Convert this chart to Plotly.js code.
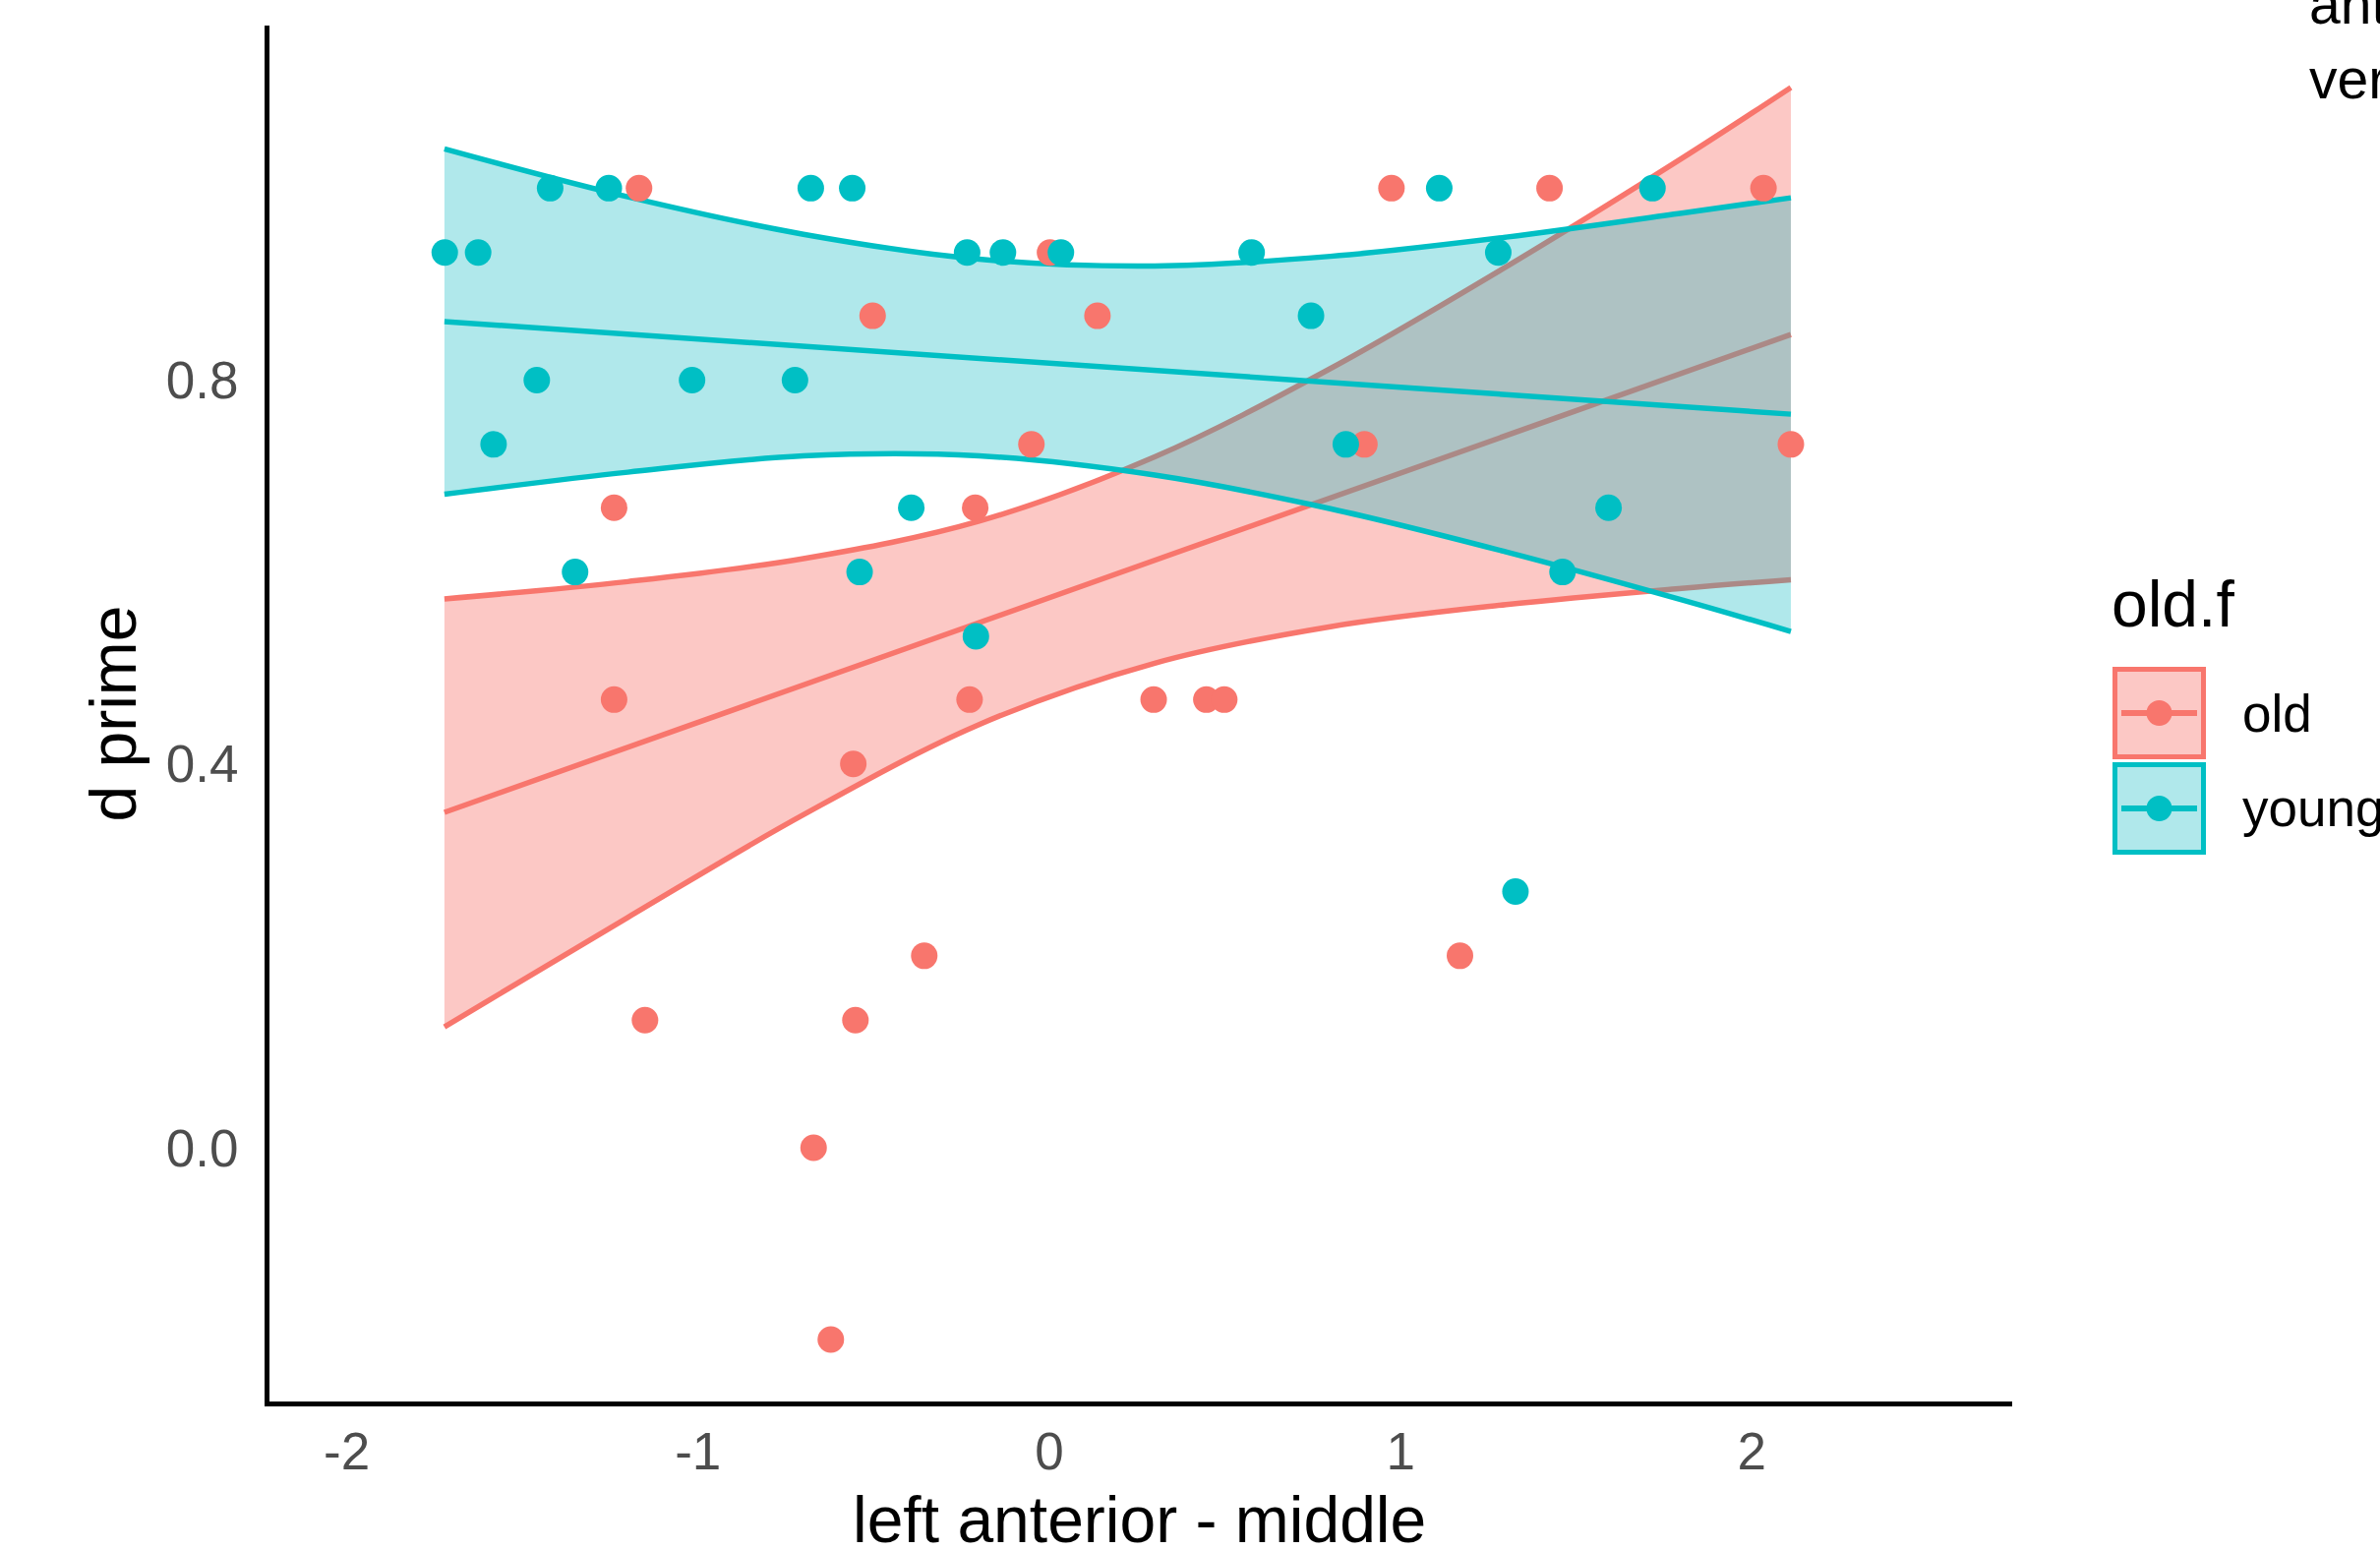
<!DOCTYPE html>
<html>
<head>
<meta charset="utf-8">
<script src="https://cdn.plot.ly/plotly-3.0.1.min.js"></script>
<style>
  html, body { margin: 0; padding: 0; background: #ffffff; }
  #chart { width: 2420px; height: 1576px; }
</style>
</head>
<body>
<div id="chart"></div>
<script>
// ---------------- data ----------------
const groupNames = ["old", "young"];

// scatter points, group "old"
const oldX = [-1.239, -1.239, -1.168, -1.151, -0.671, -0.622, -0.558, -0.552, -0.503, -0.356,
              -0.227, -0.211, -0.051, 0.002, 0.137, 0.297, 0.447, 0.498, 0.897, 0.974,
              1.169, 1.424, 2.033, 2.111];
const oldY = [0.667, 0.467, 1.000, 0.133, 0.000, -0.200, 0.400, 0.133, 0.867, 0.200,
              0.467, 0.667, 0.733, 0.933, 0.867, 0.467, 0.467, 0.467, 0.733, 1.000,
              0.200, 1.000, 1.000, 0.733];

// scatter points, group "young"
const youngX = [-1.721, -1.626, -1.582, -1.459, -1.421, -1.350, -1.254, -1.017, -0.724, -0.679,
                -0.561, -0.540, -0.393, -0.234, -0.209, -0.132, 0.033, 0.576, 0.745, 0.844,
                1.110, 1.278, 1.327, 1.461, 1.592, 1.717];
const youngY = [0.933, 0.933, 0.733, 0.800, 1.000, 0.600, 1.000, 0.800, 0.800, 1.000,
                1.000, 0.600, 0.667, 0.933, 0.533, 0.933, 0.933, 0.933, 0.867, 0.733,
                1.000, 0.933, 0.267, 0.600, 0.667, 1.000];

// linear fit lines (end points)
const fitX = [-1.722, 2.111];
const oldFitY = [0.3495, 0.8475];
const youngFitY = [0.861, 0.7645];

// confidence bands, read at these x positions
const bandX = [-1.722, -1.2, -0.7, -0.2, 0.3, 0.8, 1.3, 1.8, 2.111];
const oldUpper = [0.572, 0.590, 0.614, 0.653, 0.720, 0.812, 0.918, 1.031, 1.105];
const oldLower = [0.126, 0.240, 0.347, 0.441, 0.505, 0.543, 0.566, 0.583, 0.592];
const youngUpper = [1.041, 0.991, 0.952, 0.926, 0.919, 0.929, 0.949, 0.974, 0.990];
const youngLower = [0.681, 0.704, 0.721, 0.721, 0.701, 0.666, 0.621, 0.571, 0.538];

// axis ticks and titles
const xTicks = [-2, -1, 0, 1, 2];
const xTickText = ["-2", "-1", "0", "1", "2"];
const yTicks = [0.0, 0.4, 0.8];
const yTickText = ["0.0", "0.4", "0.8"];
const xTitle = "left anterior - middle";
const yTitle = "d prime";

// ---------------- styling ----------------
const RED = "#F8766D";
const TEAL = "#00BFC4";
const RED_FILL = "rgba(248,118,109,0.4)";
const TEAL_FILL = "rgba(0,180,190,0.31)";
const FONT = "Liberation Sans, Arial, Helvetica, sans-serif";
const LW = 5.5;
const MS = 27;

const W = 2420, H = 1576;
const M = { l: 274, r: 374, t: 26, b: 151 };
const PW = W - M.l - M.r, PH = H - M.t - M.b;
const px2x = p => (p - M.l) / PW;
const px2y = p => (H - M.b - p) / PH;

function band(lower, upper, color, fill, name) {
  return [
    { x: bandX, y: lower, type: "scatter", mode: "lines",
      line: { color: color, width: LW, shape: "spline", smoothing: 1 },
      hoverinfo: "skip", showlegend: false, name: name + " lower" },
    { x: bandX, y: upper, type: "scatter", mode: "lines", fill: "tonexty", fillcolor: fill,
      line: { color: color, width: LW, shape: "spline", smoothing: 1 },
      hoverinfo: "skip", showlegend: false, name: name + " upper" }
  ];
}

const traces = [
  ...band(oldLower, oldUpper, RED, RED_FILL, groupNames[0]),
  { x: fitX, y: oldFitY, type: "scatter", mode: "lines", line: { color: RED, width: LW },
    hoverinfo: "skip", showlegend: false, name: "old fit" },
  ...band(youngLower, youngUpper, TEAL, TEAL_FILL, groupNames[1]),
  { x: fitX, y: youngFitY, type: "scatter", mode: "lines", line: { color: TEAL, width: LW },
    hoverinfo: "skip", showlegend: false, name: "young fit" },
  { x: oldX, y: oldY, type: "scatter", mode: "markers",
    marker: { color: RED, size: MS, line: { width: 0 } }, showlegend: false, name: groupNames[0] },
  { x: youngX, y: youngY, type: "scatter", mode: "markers",
    marker: { color: TEAL, size: MS, line: { width: 0 } }, showlegend: false, name: groupNames[1] }
];

// ---------------- manual legend ----------------
const shapes = [];
const annotations = [];
const legendItems = [
  { name: groupNames[0], color: RED, fill: RED_FILL, top: 678, bottom: 772 },
  { name: groupNames[1], color: TEAL, fill: TEAL_FILL, top: 775, bottom: 869 }
];
const boxL = 2148, boxR = 2243;
legendItems.forEach(it => {
  const cy = (it.top + it.bottom) / 2;
  shapes.push({ type: "rect", xref: "paper", yref: "paper",
    x0: px2x(boxL + 2.5), x1: px2x(boxR - 2.5), y0: px2y(it.bottom - 2.5), y1: px2y(it.top + 2.5),
    fillcolor: "white", line: { width: 0 }, layer: "above" });
  shapes.push({ type: "rect", xref: "paper", yref: "paper",
    x0: px2x(boxL + 2.5), x1: px2x(boxR - 2.5), y0: px2y(it.bottom - 2.5), y1: px2y(it.top + 2.5),
    fillcolor: it.fill, line: { color: it.color, width: 5 }, layer: "above" });
  shapes.push({ type: "line", xref: "paper", yref: "paper",
    x0: px2x(boxL + 9), x1: px2x(boxR - 9), y0: px2y(cy), y1: px2y(cy),
    line: { color: it.color, width: 6 }, layer: "above" });
  shapes.push({ type: "circle", xref: "paper", yref: "paper",
    x0: px2x((boxL + boxR) / 2 - 13), x1: px2x((boxL + boxR) / 2 + 13),
    y0: px2y(cy + 13), y1: px2y(cy - 13),
    fillcolor: it.color, line: { width: 0 }, layer: "above" });
  annotations.push({ xref: "paper", yref: "paper", x: px2x(2278), y: px2y(cy),
    xanchor: "left", yanchor: "middle", showarrow: false, text: it.name,
    font: { family: FONT, size: 53, color: "#000000" } });
});
annotations.push({ xref: "paper", yref: "paper", x: px2x(2145), y: px2y(614),
  xanchor: "left", yanchor: "middle", showarrow: false, text: "old.f",
  font: { family: FONT, size: 66, color: "#000000" } });

// x-axis title (placed as an annotation so it can sit at the very bottom)
annotations.push({ xref: "paper", yref: "paper", x: px2x(1158), y: px2y(1545),
  xanchor: "center", yanchor: "middle", showarrow: false, text: xTitle,
  font: { family: FONT, size: 66, color: "#000000" } });

// cut-off text at the top right corner
annotations.push({ xref: "paper", yref: "paper", x: px2x(2346), y: px2y(4),
  xanchor: "left", yanchor: "middle", showarrow: false, text: "ant",
  font: { family: FONT, size: 57, color: "#000000" } });
annotations.push({ xref: "paper", yref: "paper", x: px2x(2346), y: px2y(80),
  xanchor: "left", yanchor: "middle", showarrow: false, text: "ver",
  font: { family: FONT, size: 57, color: "#000000" } });

const layout = {
  width: W, height: H,
  margin: M,
  paper_bgcolor: "#ffffff", plot_bgcolor: "#ffffff",
  showlegend: false,
  font: { family: FONT, color: "#000000" },
  xaxis: {
    range: [-2.22, 2.741], autorange: false,
    tickvals: xTicks, ticktext: xTickText, ticks: "",
    showgrid: false, zeroline: false,
    showline: true, linecolor: "#000000", linewidth: 5,
    tickfont: { family: FONT, size: 53, color: "#4D4D4D" },
    automargin: false
  },
  yaxis: {
    range: [-0.2645, 1.1695], autorange: false,
    tickvals: yTicks, ticktext: yTickText, ticks: "outside", ticklen: 16, tickcolor: "rgba(0,0,0,0)",
    showgrid: false, zeroline: false,
    showline: true, linecolor: "#000000", linewidth: 5,
    tickfont: { family: FONT, size: 53, color: "#4D4D4D" },
    title: { text: yTitle, font: { family: FONT, size: 66, color: "#000000" }, standoff: 10 },
    automargin: false
  },
  shapes: shapes,
  annotations: annotations
};

Plotly.newPlot("chart", traces, layout, { staticPlot: true, displayModeBar: false });
</script>
</body>
</html>
